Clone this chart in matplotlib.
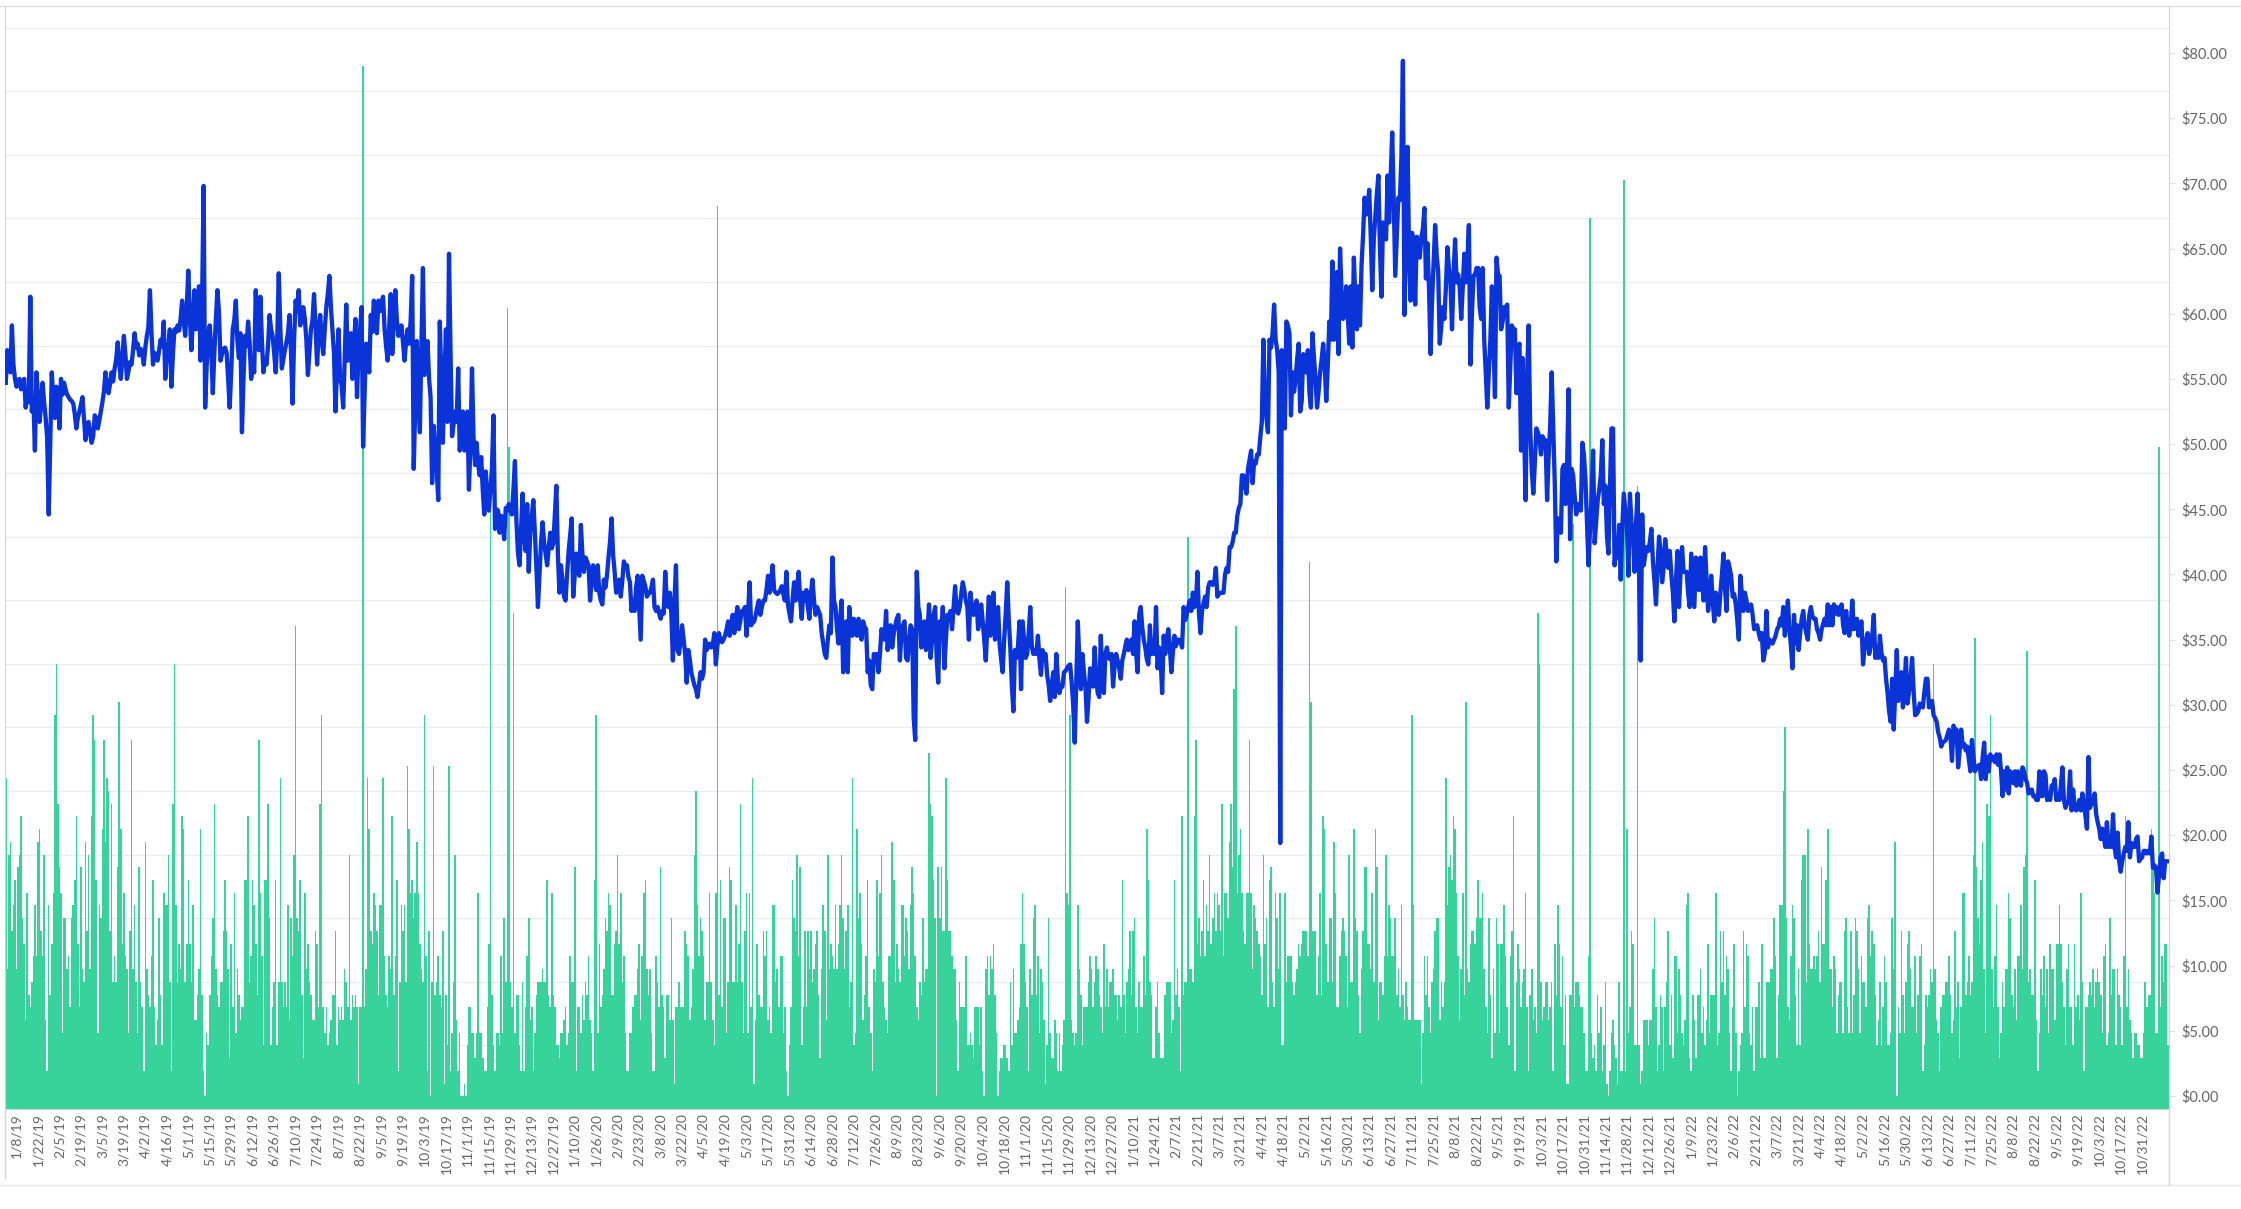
import matplotlib
matplotlib.use("Agg")
import matplotlib.pyplot as plt
from matplotlib.lines import Line2D
import numpy as np

plt.rcParams['font.family'] = ['Lato', 'DejaVu Sans']

# one label every 14 points, the first one on the 8th point
date_labels = [
    '1/8/19', '1/22/19', '2/5/19', '2/19/19', '3/5/19', '3/19/19', '4/2/19', '4/16/19', '5/1/19',
    '5/15/19', '5/29/19', '6/12/19', '6/26/19', '7/10/19', '7/24/19', '8/7/19', '8/22/19', '9/5/19',
    '9/19/19', '10/3/19', '10/17/19', '11/1/19', '11/15/19', '11/29/19', '12/13/19', '12/27/19',
    '1/10/20', '1/26/20', '2/9/20', '2/23/20', '3/8/20', '3/22/20', '4/5/20', '4/19/20', '5/3/20',
    '5/17/20', '5/31/20', '6/14/20', '6/28/20', '7/12/20', '7/26/20', '8/9/20', '8/23/20', '9/6/20',
    '9/20/20', '10/4/20', '10/18/20', '11/1/20', '11/15/20', '11/29/20', '12/13/20', '12/27/20',
    '1/10/21', '1/24/21', '2/7/21', '2/21/21', '3/7/21', '3/21/21', '4/4/21', '4/18/21', '5/2/21',
    '5/16/21', '5/30/21', '6/13/21', '6/27/21', '7/11/21', '7/25/21', '8/8/21', '8/22/21', '9/5/21',
    '9/19/21', '10/3/21', '10/17/21', '10/31/21', '11/14/21', '11/28/21', '12/12/21', '12/26/21',
    '1/9/22', '1/23/22', '2/6/22', '2/21/22', '3/7/22', '3/21/22', '4/4/22', '4/18/22', '5/2/22',
    '5/16/22', '5/30/22', '6/13/22', '6/27/22', '7/11/22', '7/25/22', '8/8/22', '8/22/22', '9/5/22',
    '9/19/22', '10/3/22', '10/17/22', '10/31/22']
first_label = 7
label_step = 14

# daily price (right axis, $)
price_1 = [54.7, 57.2, 56.9, 55.5, 59.1, 56.1, 55.0, 54.4, 54.9, 55.0,
           54.2, 54.7, 55.0, 52.8, 54.0, 53.2, 61.3, 52.5, 53.5, 49.5,
           55.5, 53.8, 51.7, 53.0, 54.7, 53.2, 52.0, 50.5, 44.6, 50.0,
           55.5, 53.4, 52.0, 54.4, 53.6, 51.2, 55.0, 53.8, 54.7, 54.2,
           53.8, 53.6, 53.4, 53.3, 53.1, 52.3, 51.2, 52.0, 52.5, 53.0,
           53.6, 52.0, 50.3, 51.5, 51.7, 50.8, 50.1, 50.6, 52.2, 52.0,
           51.2, 51.8, 52.5, 53.2, 54.0, 55.5, 54.5, 53.9, 54.6, 55.5,
           54.8, 55.8, 56.5, 57.8, 56.2, 55.0, 56.5, 58.3, 56.9, 55.0,
           55.6, 56.3, 56.1, 57.2, 58.5, 57.4, 57.7, 56.8, 57.3, 57.0,
           56.1, 57.4, 58.3, 59.0, 61.8, 58.6, 56.1, 57.0, 56.7, 56.4,
           57.2, 58.0, 57.5, 59.4, 55.0, 56.8, 57.5, 58.8, 54.4, 56.9,
           58.8, 58.6, 59.1, 58.7, 59.6, 61.0, 59.5, 58.3, 60.4, 63.3,
           60.0, 57.2, 59.4, 61.8, 58.8, 60.5, 62.1, 56.4, 60.8, 69.8,
           52.8, 56.0, 58.4, 59.1, 57.2, 53.9, 57.0, 59.6, 61.8, 60.2,
           56.4, 56.9, 57.3]
price_2 = [57.4, 57.0, 55.0, 52.8, 55.5, 58.8, 59.5, 61.0, 58.0, 56.6,
           58.5, 50.9, 55.0, 58.3, 57.5, 59.4, 57.8, 55.0, 56.2, 55.5,
           61.8, 58.5, 57.2, 61.3, 58.0, 55.5, 56.5, 56.1, 57.5, 59.9,
           58.8, 58.3, 57.0, 55.5, 58.0, 63.1, 59.0, 55.8, 56.5, 57.2,
           57.8, 58.5, 59.9, 57.0, 53.1, 58.0, 61.0, 60.2, 61.8, 59.1,
           60.0, 60.5, 59.6, 58.0, 55.3, 57.0, 58.8, 59.5, 61.5, 59.0,
           56.1, 58.5, 59.9, 58.0, 56.9, 58.8, 60.5, 61.5, 62.9, 60.5,
           58.8, 57.0, 52.5, 56.0, 58.8, 55.0, 54.5, 52.8, 56.5, 60.7,
           56.4, 57.8, 58.5, 55.0, 57.5, 59.6, 53.6, 57.0, 58.8, 60.5,
           49.8, 54.0, 57.7, 56.8, 55.5, 59.9, 58.6, 61.0, 59.5, 58.5,
           61.0, 60.2, 60.8, 61.3, 58.8, 57.5, 56.4, 59.0, 61.5, 56.9,
           59.5, 61.8, 59.5, 58.3, 58.8, 59.1, 57.8, 56.4, 57.8, 58.8,
           57.7, 59.5, 62.9, 48.1, 53.0, 57.9, 54.0, 50.9, 57.5, 63.5,
           55.3, 56.5, 57.9, 55.0, 53.6, 47.0, 51.4, 49.5, 48.0, 45.7,
           59.4, 55.0, 50.1]
price_3 = [55.0, 58.8, 51.7, 64.6, 57.0, 50.6, 51.5, 52.5, 51.7, 55.8,
           49.5, 51.0, 52.5, 49.5, 51.0, 52.5, 46.5, 50.0, 55.8, 50.5,
           48.4, 50.1, 48.5, 47.6, 49.0, 46.5, 44.6, 47.9, 46.0, 44.9,
           46.5, 48.1, 52.2, 43.5, 45.0, 44.9, 43.2, 44.5, 43.8, 42.7,
           45.1, 45.0, 45.4, 44.8, 44.6, 46.5, 48.7, 44.0, 41.6, 40.7,
           43.5, 46.2, 43.0, 41.8, 45.4, 40.2, 43.2, 44.5, 45.7, 43.2,
           40.5, 37.5, 40.0, 42.4, 44.0, 42.5, 41.6, 40.7, 42.0, 43.2,
           42.0, 42.4, 44.5, 46.8, 41.5, 38.6, 40.7, 39.5, 38.3, 38.0,
           40.0, 41.8, 43.0, 44.3, 38.3, 40.0, 41.6, 40.5, 39.9, 43.8,
           41.5, 40.2, 41.3, 41.0, 40.7, 38.0, 39.5, 40.7, 39.5, 38.8,
           40.7, 38.6, 38.0, 37.7, 39.6, 39.0, 39.9, 41.3, 42.5, 44.3,
           41.5, 40.2, 38.6, 39.2, 39.6, 38.3, 39.5, 41.0, 40.7, 40.7,
           39.8, 39.4, 37.2, 38.0, 37.2, 39.0, 39.9, 37.5, 35.0, 39.9,
           39.5, 39.1, 38.3, 38.5, 38.6, 39.0, 39.6, 37.5, 37.2, 37.5,
           37.0, 36.6, 37.2, 37.0]
price_4 = [40.2, 38.0, 37.5, 38.6, 36.9, 33.4, 38.0, 40.7, 34.2, 33.9,
           35.0, 36.1, 35.0, 33.9, 31.7, 34.2, 33.5, 32.5, 32.0, 31.5,
           31.2, 30.6, 31.5, 32.5, 32.0, 32.5, 35.0, 34.2, 34.5, 34.7,
           34.4, 34.6, 35.5, 33.1, 34.5, 35.5, 35.0, 34.8, 35.0, 35.3,
           35.8, 36.4, 35.3, 36.0, 36.9, 35.5, 36.5, 37.5, 35.8, 36.5,
           37.2, 37.2, 37.5, 35.3, 37.0, 39.4, 36.1, 36.3, 36.4, 36.9,
           37.5, 38.0, 36.9, 37.5, 38.0, 38.0, 38.8, 39.9, 38.6, 39.5,
           40.7, 38.8, 38.6, 38.5, 38.6, 38.8, 39.1, 38.5, 38.0, 40.2,
           37.7, 37.0, 36.4, 38.0, 39.4, 38.0, 39.0, 40.2, 38.0, 36.6,
           38.6, 38.0, 38.8, 37.5, 36.6, 38.6, 39.6, 38.0, 36.9, 37.5,
           37.2, 36.9, 35.5, 34.7, 33.9, 33.6, 35.0, 36.1, 35.5, 41.3,
           38.0, 37.5, 35.8, 34.7, 36.5, 38.0, 32.5, 35.0, 36.4, 32.5,
           37.5, 36.0, 35.3, 36.6, 35.8, 35.3, 36.6, 35.5, 35.0, 36.4,
           36.0, 35.8, 32.5, 33.4, 31.5, 31.2, 33.9, 33.5, 33.9, 32.5,
           33.9, 35.8, 35.3, 35.0]
price_5 = [37.2, 34.2, 35.5, 36.1, 34.4, 35.5, 36.1, 36.6, 36.9, 33.4,
           35.5, 36.1, 36.4, 33.6, 33.4, 35.0, 36.1, 35.8, 29.0, 27.3,
           40.2, 37.5, 36.9, 34.4, 35.5, 36.4, 34.2, 35.5, 37.7, 33.6,
           35.0, 36.9, 37.5, 33.5, 31.7, 36.4, 35.5, 37.5, 32.8, 35.0,
           36.9, 36.5, 37.2, 35.8, 37.5, 39.1, 37.2, 37.0, 37.5, 38.5,
           39.4, 38.8, 38.0, 37.5, 35.0, 38.6, 37.5, 36.9, 37.5, 38.0,
           35.8, 36.5, 37.7, 36.4, 35.0, 33.4, 36.0, 38.3, 35.3, 36.5,
           38.6, 35.0, 36.0, 37.5, 34.7, 33.5, 32.5, 35.0, 37.0, 39.4,
           36.5, 34.4, 31.5, 29.5, 34.2, 33.6, 34.5, 36.4, 31.2, 36.4,
           35.0, 33.6, 33.9, 35.5, 37.5, 34.5, 33.9, 34.2, 33.9, 35.3,
           33.5, 32.3, 34.2, 33.8, 33.9, 32.3, 31.5, 30.3, 31.5, 32.5,
           30.6, 33.9, 32.0, 30.9, 31.4, 31.4, 32.5, 32.6, 32.8, 33.0,
           33.1, 31.7, 30.0, 27.1, 31.7, 36.4, 33.5, 31.2, 33.9, 32.5,
           31.4, 28.7, 30.5, 32.8, 32.0, 31.4, 34.4, 32.0, 30.9, 30.6,
           35.3, 32.0, 30.9]
price_6 = [33.9, 34.4, 33.6, 33.5, 33.9, 31.4, 33.0, 33.9, 33.4, 32.8,
           32.0, 33.4, 33.9, 34.5, 35.0, 34.2, 34.6, 35.0, 33.9, 36.4,
           34.0, 32.5, 36.9, 37.5, 36.0, 35.0, 34.4, 33.5, 33.1, 36.1,
           33.9, 34.5, 33.9, 37.5, 32.8, 34.4, 33.5, 30.9, 35.3, 33.9,
           35.0, 35.8, 34.4, 32.5, 34.0, 35.3, 34.5, 35.0, 35.0, 34.8,
           34.4, 37.5, 36.5, 36.9, 37.5, 38.0, 37.2, 38.6, 37.5, 37.7,
           40.2, 37.0, 35.5, 37.2, 37.8, 38.3, 37.5, 39.0, 39.4, 39.4,
           39.2, 39.4, 40.5, 38.3, 38.5, 38.6, 38.6, 38.6, 40.0, 40.5,
           40.2, 42.1, 42.1, 42.5, 43.2, 43.2, 44.5, 45.1, 45.4, 47.6,
           47.6, 46.8, 46.2, 48.1, 48.8, 49.5, 47.0, 48.7, 48.5, 49.2,
           49.2, 50.5, 51.7, 58.0, 53.6, 52.0, 50.9, 58.0, 57.4, 58.5,
           60.7, 58.0, 57.2, 55.5, 19.4, 57.2, 54.0, 51.2, 59.4, 59.1,
           58.5, 52.2, 55.5, 54.0, 55.0, 56.5, 57.7, 52.5, 53.3, 56.9,
           56.0, 55.5, 57.2, 54.0, 52.8, 58.5, 56.6, 55.0, 52.8, 54.0,
           55.5, 56.5, 57.7, 56.0]
price_7 = [53.3, 56.0, 59.4, 58.0, 64.0, 58.0, 60.0, 63.2, 56.9, 65.0,
           61.5, 59.6, 59.9, 62.1, 60.0, 57.7, 62.1, 57.4, 64.3, 61.0,
           58.8, 62.1, 59.1, 63.7, 66.0, 68.9, 67.6, 68.0, 69.5, 66.0,
           61.8, 65.7, 67.5, 69.2, 70.6, 65.0, 61.3, 67.0, 66.0, 65.7,
           70.6, 67.0, 70.5, 73.9, 68.7, 62.9, 66.0, 68.9, 68.7, 72.0,
           79.4, 59.9, 66.0, 72.8, 64.6, 61.0, 66.2, 64.0, 60.7, 65.9,
           64.5, 64.3, 65.9, 66.5, 68.1, 62.7, 65.4, 62.0, 56.9, 61.0,
           64.0, 66.8, 64.5, 63.2, 57.7, 59.0, 60.5, 59.6, 62.0, 65.1,
           63.5, 62.4, 58.8, 63.0, 65.7, 62.4, 63.0, 62.1, 59.6, 62.0,
           64.6, 62.4, 64.0, 66.8, 56.1, 60.0, 62.9, 63.0, 63.5, 63.5,
           60.5, 59.6, 63.5, 58.0, 55.5, 52.8, 55.5, 58.0, 62.1, 58.0,
           53.6, 64.3, 63.0, 62.9, 58.8, 59.4, 60.5, 60.5, 60.7, 52.8,
           56.0, 59.1, 58.8, 58.8, 53.9, 57.4, 57.7, 49.5, 56.6, 51.0,
           45.7, 55.5, 59.1, 51.2, 48.0, 46.2, 48.5, 51.2, 50.9, 50.5,
           49.2, 50.6, 50.3]
price_8 = [50.3, 45.7, 49.0, 51.4, 55.5, 51.2, 47.0, 41.0, 44.3, 43.5,
           43.2, 48.1, 48.4, 45.4, 48.1, 54.2, 42.7, 48.1, 47.6, 46.0,
           44.6, 45.4, 45.0, 44.9, 50.1, 49.2, 47.3, 44.0, 40.7, 43.5,
           45.9, 49.5, 42.4, 44.0, 45.7, 46.5, 47.6, 50.3, 45.4, 46.8,
           43.0, 41.6, 46.8, 51.2, 51.2, 40.7, 42.0, 41.3, 43.8, 39.6,
           43.5, 46.2, 45.0, 43.8, 39.9, 46.2, 44.0, 42.9, 40.2, 44.0,
           46.2, 39.9, 33.4, 44.6, 40.7, 41.5, 42.1, 41.8, 42.5, 43.5,
           41.0, 39.5, 37.7, 40.5, 42.9, 41.8, 39.4, 40.5, 42.7, 41.5,
           40.5, 41.8, 40.0, 38.6, 36.4, 39.5, 41.8, 37.5, 40.0, 42.1,
           40.2, 40.2, 40.2, 38.5, 37.5, 41.6, 39.5, 37.5, 41.3, 40.0,
           38.8, 41.3, 39.5, 38.0, 42.1, 39.5, 37.2, 38.3, 39.9, 38.0,
           36.4, 38.6, 37.5, 36.9, 38.6, 40.0, 41.6, 39.0, 37.2, 41.0,
           40.5, 39.9, 38.3, 38.5, 37.7, 36.5, 35.0, 39.9, 38.5, 37.2,
           38.6, 38.0, 37.2, 37.5, 37.7, 36.9, 35.8, 36.0, 36.1, 35.5,
           35.0, 35.5, 33.4, 34.0]
price_9 = [37.2, 34.4, 35.0, 34.8, 34.7, 35.0, 35.3, 35.8, 36.0, 36.6,
           36.1, 37.5, 35.3, 36.5, 38.0, 35.8, 34.5, 32.8, 36.9, 34.7,
           36.1, 34.2, 35.5, 36.6, 37.2, 36.1, 35.5, 35.0, 36.9, 37.5,
           36.8, 36.6, 36.6, 35.8, 35.5, 35.0, 35.8, 36.2, 36.6, 36.1,
           37.7, 36.1, 37.5, 36.1, 37.7, 37.0, 37.5, 36.9, 37.2, 37.7,
           36.1, 35.5, 37.2, 36.0, 35.3, 36.1, 38.0, 35.8, 36.2, 36.6,
           35.3, 36.0, 36.4, 33.1, 34.4, 35.0, 35.5, 33.9, 34.5, 35.3,
           36.9, 33.6, 34.0, 33.6, 35.3, 34.0, 33.4, 33.6, 32.0, 30.9,
           29.5, 28.7, 32.0, 28.1, 31.0, 34.2, 30.3, 31.5, 32.5, 29.8,
           31.5, 33.6, 30.1, 31.0, 32.0, 33.6, 31.0, 29.2, 29.3, 29.5,
           30.1, 29.9, 29.8, 31.0, 32.0, 32.0, 29.8, 30.0, 30.3, 29.2,
           29.0, 28.7, 27.9, 27.5, 26.8, 27.1, 27.2, 27.3, 27.7, 28.1,
           27.6, 25.7, 28.4, 28.0, 28.1, 25.2, 26.5, 28.1, 26.8, 27.0,
           26.5, 26.8, 25.8, 24.9, 27.3, 26.0, 24.9, 25.2, 25.3, 25.4,
           24.3, 26.0, 27.1]
price_10 = [24.3, 26.0, 24.9, 26.2, 25.8, 26.0, 25.6, 26.2, 25.4, 26.2, 24.9, 23.0,
            24.9, 23.5, 25.2, 23.2, 24.9, 24.5, 24.0, 24.9, 23.8, 24.9, 24.0, 23.8,
            25.2, 24.9, 24.3, 24.0, 23.2, 23.4, 23.5, 23.0, 23.0, 22.7, 22.7, 24.9,
            23.0, 23.0, 24.9, 24.6, 22.7, 23.2, 22.7, 23.8, 23.8, 24.3, 22.7, 23.0,
            22.7, 23.8, 25.2, 22.7, 22.1, 22.4, 22.7, 24.9, 21.9, 23.5, 22.1, 21.9,
            22.1, 22.7, 21.9, 23.2, 22.4, 21.5, 20.5, 26.0, 22.1, 22.7, 22.4, 23.2,
            21.6, 21.0, 20.5, 19.7, 20.5, 19.8, 19.1, 21.0, 19.1, 19.9, 19.1, 21.6,
            19.1, 18.3, 20.2, 18.0, 17.2, 18.0, 18.6, 19.1, 18.8, 21.0, 18.3, 19.4,
            19.1, 19.1, 19.7, 19.9, 18.0, 18.2, 18.3, 18.8, 18.8, 18.6, 18.8, 18.6,
            19.9, 17.5, 17.7, 17.5, 15.6, 17.0, 18.3, 18.6, 16.7, 18.0, 18.0, 18.0]

# daily bars (hidden left axis, gridlines every 5 units)
volume_1 = [26, 11, 20, 21, 14, 16, 18, 11, 19, 20, 23, 15, 13, 7, 17, 9, 8, 10,
            12, 16, 12, 21, 22, 14, 12, 20, 7, 3, 16, 9, 13, 17, 31, 35, 24, 19,
            17, 6, 15, 15, 11, 12, 8, 15, 16, 18, 23, 13, 8, 19, 11, 10, 21, 14,
            20, 11, 23, 31, 29, 18, 6, 16, 15, 22, 29, 21, 26, 25, 14, 24, 10, 12,
            10, 19, 32, 22, 13, 17, 12, 11, 6, 14, 29, 11, 16, 10, 6, 19, 10, 8,
            3, 21, 11, 9, 8, 12, 18, 8, 5, 7, 15, 9, 5, 17, 16, 16, 20, 10,
            3, 24, 35, 16, 10, 13, 11, 23, 22, 10, 13, 18, 13, 10, 16, 7, 7, 9,
            11, 22, 9, 3, 1, 6, 5, 9, 12, 15, 24, 11, 9, 8]
volume_2 = [10, 10, 14, 18, 14, 11, 4, 13, 8, 17, 6, 11,
            9, 7, 8, 8, 18, 18, 23, 10, 12, 18, 16, 13,
            9, 29, 17, 12, 5, 18, 18, 24, 15, 5, 8, 10,
            18, 5, 10, 26, 10, 8, 10, 8, 16, 7, 15, 12,
            20, 38, 15, 14, 18, 9, 4, 17, 11, 13, 10, 9,
            7, 7, 14, 13, 8, 24, 31, 8, 6, 8, 5, 6,
            7, 9, 9, 14, 5, 8, 7, 8, 7, 11, 10, 8,
            20, 7, 9, 8, 9, 8, 2, 8, 8, 82, 8, 11,
            26, 22, 14, 13, 17, 16, 14, 9, 16, 16, 26, 12,
            9, 8, 12, 11, 23, 9, 12, 18, 3, 10, 16, 14,
            16, 10, 27, 22, 17, 18, 15, 17, 21, 17, 13, 11,
            10, 31, 12, 3, 14, 1, 10, 27, 9, 10, 12]
volume_3 = [9, 8, 14, 2, 9, 5, 27, 3, 6, 10, 20, 7,
            3, 6, 1, 1, 2, 1, 5, 8, 8, 6, 6, 4,
            6, 17, 6, 6, 4, 3, 3, 8, 13, 47, 9, 5,
            3, 6, 6, 5, 12, 6, 15, 10, 63, 52, 10, 8,
            39, 6, 9, 9, 5, 3, 10, 3, 8, 12, 15, 7,
            8, 3, 6, 9, 10, 10, 10, 11, 10, 10, 18, 9,
            8, 17, 9, 8, 5, 5, 4, 6, 6, 7, 8, 5,
            6, 12, 10, 10, 19, 3, 8, 8, 6, 9, 7, 10,
            9, 12, 7, 6, 3, 18, 31, 6, 13, 8, 9, 11,
            15, 14, 17, 16, 9, 9, 13, 14, 20, 13, 17, 10,
            12, 6, 3, 3, 6, 6, 8, 9, 9, 11, 13, 7,
            12, 17, 18, 11, 9, 11, 6, 3, 3, 12, 10, 8]
volume_4 = [19, 9, 8, 4, 9, 9, 7, 15, 7, 2, 8, 8, 10,
            8, 8, 8, 14, 13, 12, 7, 8, 11, 20, 25, 16, 12,
            15, 14, 12, 7, 10, 10, 17, 10, 7, 5, 17, 71, 9,
            18, 8, 15, 15, 6, 10, 19, 18, 10, 10, 16, 10, 13,
            24, 10, 6, 14, 17, 6, 17, 8, 26, 2, 7, 13, 9,
            8, 8, 14, 12, 14, 7, 8, 6, 16, 16, 10, 11, 8,
            12, 12, 6, 8, 3, 1, 5, 8, 18, 15, 14, 20, 12,
            19, 5, 8, 14, 8, 14, 11, 14, 10, 11, 13, 14, 9,
            4, 11, 16, 14, 7, 20, 11, 13, 12, 11, 16, 11, 13,
            16, 20, 15, 11, 14, 16, 8, 10, 26, 5, 6, 22, 15,
            17, 13, 7, 9, 12, 18, 8, 6, 3, 11, 10, 18, 12]
volume_5 = [17, 20, 10, 8, 7, 6, 12, 12, 21, 18, 10, 13,
            11, 10, 16, 16, 12, 15, 14, 11, 16, 19, 17, 12,
            8, 7, 10, 9, 15, 10, 11, 11, 28, 24, 23, 18,
            15, 1, 19, 15, 19, 14, 14, 26, 18, 14, 14, 12,
            11, 11, 7, 3, 10, 8, 8, 8, 12, 5, 5, 6,
            5, 4, 8, 8, 8, 5, 8, 3, 1, 11, 12, 9,
            12, 11, 13, 9, 6, 1, 3, 4, 4, 5, 5, 4,
            3, 10, 5, 11, 6, 6, 7, 8, 13, 17, 13, 10,
            8, 3, 11, 9, 15, 16, 9, 12, 6, 11, 10, 7,
            2, 5, 15, 6, 4, 4, 7, 6, 3, 6, 3, 5,
            7, 41, 17, 16, 31, 7, 6, 5, 6, 16, 11, 9,
            5, 8, 8, 8, 10, 12, 11, 8, 10, 12, 11, 9]
volume_6 = [8, 6, 13, 8, 11, 8, 10, 10, 11, 9, 9, 7, 9,
            8, 18, 9, 6, 10, 11, 14, 9, 14, 15, 8, 6, 10,
            8, 8, 12, 9, 22, 18, 10, 9, 4, 4, 8, 10, 6,
            4, 4, 4, 9, 10, 10, 10, 6, 7, 18, 9, 11, 8,
            3, 23, 9, 10, 10, 45, 11, 11, 10, 23, 29, 13, 15,
            12, 14, 18, 12, 16, 14, 20, 13, 15, 17, 14, 17, 16,
            14, 24, 12, 17, 17, 15, 21, 24, 19, 33, 38, 17, 20,
            22, 17, 14, 13, 17, 17, 29, 17, 11, 16, 15, 14, 13,
            12, 9, 20, 13, 15, 8, 18, 19, 10, 8, 17, 15, 11,
            17, 5, 5, 17, 10, 12, 12, 12, 10, 9, 10, 11, 13,
            12, 13, 14, 14, 14, 12, 43, 32, 14, 14, 14, 9, 12]
volume_7 = [17, 9, 23, 22, 13, 10, 15, 15, 10, 21, 17, 8, 8, 12,
            14, 15, 14, 12, 8, 20, 10, 10, 22, 15, 14, 9, 6, 11,
            14, 19, 19, 13, 13, 11, 17, 10, 22, 19, 7, 10, 10, 9,
            12, 20, 12, 16, 15, 12, 12, 15, 9, 11, 8, 16, 9, 7,
            10, 8, 7, 7, 31, 16, 7, 7, 7, 7, 2, 6, 12, 9,
            12, 8, 6, 10, 11, 14, 15, 15, 7, 10, 8, 10, 26, 16,
            19, 20, 18, 23, 22, 17, 12, 7, 11, 17, 9, 32, 11, 10,
            13, 14, 14, 13, 15, 18, 15, 15, 17, 11, 8, 6, 15, 9,
            4, 11, 6, 15, 13, 6, 13, 13, 16, 12, 8, 5, 12, 14,
            23, 3, 10, 13, 11, 8, 10, 11, 17, 8, 3, 9, 11, 7,
            8, 6, 39]
volume_8 = [35, 10, 7, 8, 10, 10, 7, 8, 10, 3, 13, 9,
            16, 13, 8, 12, 5, 9, 2, 2, 9, 9, 46, 8,
            10, 10, 9, 8, 8, 6, 3, 3, 12, 70, 6, 4,
            5, 3, 9, 6, 8, 3, 5, 10, 2, 1, 3, 6,
            7, 5, 4, 2, 10, 3, 3, 73, 3, 22, 6, 8,
            14, 13, 5, 5, 49, 5, 2, 3, 7, 7, 7, 5,
            7, 7, 11, 15, 8, 3, 5, 9, 8, 3, 8, 10,
            14, 5, 9, 4, 12, 12, 6, 11, 9, 6, 5, 7,
            16, 17, 4, 3, 9, 7, 4, 9, 9, 11, 6, 8,
            5, 7, 13, 6, 9, 9, 9, 17, 5, 6, 14, 10,
            14, 9, 12, 11, 6, 3, 8, 13, 6, 1, 3, 5,
            6, 14, 8, 13, 12, 6, 5, 8, 3, 8, 8, 10]
volume_9 = [4, 13, 4, 4, 10, 10, 10, 11, 11, 15, 12, 4, 9,
            16, 16, 25, 30, 15, 8, 7, 12, 16, 15, 9, 5, 11,
            5, 18, 20, 20, 10, 22, 13, 11, 11, 12, 11, 12, 14,
            10, 19, 13, 13, 18, 22, 11, 11, 8, 12, 11, 6, 9,
            10, 10, 6, 14, 15, 8, 6, 14, 6, 9, 15, 14, 11,
            6, 12, 10, 10, 8, 15, 16, 12, 14, 13, 9, 5, 7,
            10, 5, 8, 12, 10, 5, 5, 6, 15, 11, 21, 1, 8,
            6, 14, 9, 6, 10, 13, 14, 11, 8, 8, 12, 6, 9,
            12, 13, 3, 5, 9, 8, 9, 11, 10, 35, 11, 7, 6,
            3, 8, 9, 9, 10, 10, 12, 9, 6, 7, 14, 8, 10,
            4, 8, 17, 17, 9, 10, 12, 9, 10, 20, 37, 19, 15]
volume_10 = [13, 18, 21, 11, 6, 24, 23, 31, 11, 8, 12,
             16, 8, 4, 6, 10, 8, 11, 11, 17, 15, 9,
             8, 11, 7, 12, 12, 16, 11, 19, 20, 36, 10,
             11, 9, 9, 18, 7, 3, 6, 11, 9, 12, 8,
             11, 6, 13, 11, 11, 7, 13, 13, 16, 13, 10,
             8, 5, 11, 13, 8, 8, 5, 13, 8, 9, 7,
             17, 10, 3, 8, 8, 9, 10, 9, 11, 8, 10,
             11, 10, 9, 6, 12, 13, 5, 6, 15, 9, 11,
             11, 5, 11, 9, 8, 5, 12, 23, 8, 11, 7,
             6, 4, 6, 6, 5, 5, 4, 4, 6, 10, 8,
             9, 9, 22, 21, 17, 6, 6, 52, 8, 12, 10,
             13, 13, 5]

price = np.concatenate([price_1, price_2, price_3, price_4, price_5,
                        price_6, price_7, price_8, price_9, price_10])
volume = np.concatenate([volume_1, volume_2, volume_3, volume_4, volume_5,
                         volume_6, volume_7, volume_8, volume_9, volume_10])

W, H = 2241, 1209
fig = plt.figure(figsize=(W / 100, H / 100), dpi=100)
ax = fig.add_axes([5 / W, 1 - 1109 / H, (2169 - 5) / W, (1109 - 6) / H])
ax2 = ax.twinx()   # twinx resets the left ticks, so style both axes afterwards

grey_line = '#d4d4d4'
label_col = '#666666'

ax.bar(np.arange(len(volume)), volume, width=1.0, color='#38d39b', linewidth=0)
ax.set_ylim(0, 86.7)
ax.set_yticks(np.arange(0, 86, 5))
ax.yaxis.grid(True, color='#ececec', linewidth=1)
ax.set_axisbelow(True)
ax.tick_params(axis='y', which='both', left=False, right=False, labelleft=False, labelright=False)
ax.set_xlim(-0.5, len(volume) - 0.5)
ax.set_xticks(first_label + label_step * np.arange(len(date_labels)))
ax.set_xticklabels(date_labels, rotation=90, fontsize=10, color=label_col)
ax.tick_params(axis='x', length=0, pad=3)
for s in ['top', 'right']:
    ax.spines[s].set_visible(False)
for s in ['left', 'bottom']:
    ax.spines[s].set_color(grey_line)

ax2.plot(np.arange(len(price)), price, color='#0a33d8', linewidth=3.1)
ax2.set_ylim(-1.0, 83.6)
ticks = np.arange(0, 81, 5)
ax2.set_yticks(ticks)
ax2.set_yticklabels(['$%.2f' % t for t in ticks])
ax2.tick_params(axis='y', length=4, color='#e0e0e0', labelsize=10.5, labelcolor=label_col, pad=5)
for s in ['top', 'left', 'bottom']:
    ax2.spines[s].set_visible(False)
ax2.spines['right'].set_color(grey_line)

# frame lines of the view
fig.add_artist(Line2D([0, 1], [1 - 5.5 / H, 1 - 5.5 / H], color='#dcdcdc', linewidth=1))
fig.add_artist(Line2D([0, 1], [1 - 1185 / H, 1 - 1185 / H], color='#e6e6e6', linewidth=1))
fig.add_artist(Line2D([4.5 / W, 4.5 / W], [1 - 1178 / H, 1 - 1109 / H], color=grey_line, linewidth=1))
fig.add_artist(Line2D([2169 / W, 2169 / W], [1 - 1185 / H, 1 - 1109 / H], color=grey_line, linewidth=1))

fig.savefig('out.png', dpi=100, facecolor='white')
